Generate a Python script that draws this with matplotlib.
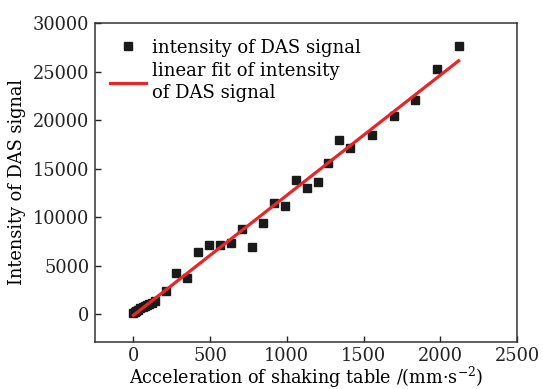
import matplotlib

matplotlib.use("Agg")

import matplotlib.pyplot as plt
import numpy as np

# acceleration of shaking table (mm/s^2) and DAS intensity
accel = [0, 8, 18, 30, 45, 60, 75, 90, 105, 120, 138,
         213, 280, 352, 421, 493, 565, 634, 706, 775, 847, 917, 988,
         1060, 1129, 1201, 1270, 1342, 1411, 1555, 1696, 1837, 1978, 2120]
intensity = [120, 200, 350, 480, 620, 760, 870, 960, 1080, 1180, 1350,
             2400, 4250, 3800, 6400, 7100, 7200, 7400, 8850, 6900, 9450, 11450, 11200,
             13850, 12980, 13600, 15650, 18000, 17200, 18450, 20400, 22100, 25250, 27650]

slope, intercept = np.polyfit(accel, intensity, 1)
fit_x = np.array([min(accel), max(accel)])
fit_y = slope * fit_x + intercept

plt.rcParams["font.family"] = ["DejaVu Serif"]
plt.rcParams["mathtext.fontset"] = "dejavuserif"

fig, ax = plt.subplots(figsize=(5.43, 3.89), dpi=100)
ax.plot(accel, intensity, "s", color="#1a1a1a", markersize=5.8, label="intensity of DAS signal", zorder=3)
ax.plot(fit_x, fit_y, color="#e8262a", lw=2.3, label="linear fit of intensity\nof DAS signal", zorder=4)

ax.set_xlim(-250, 2500)
ax.set_ylim(-2800, 30000)
ax.set_xticks([0, 500, 1000, 1500, 2000, 2500])
ax.set_yticks([0, 5000, 10000, 15000, 20000, 25000, 30000])
ax.tick_params(direction="in", length=4.5, width=1, labelsize=12.8, colors="#222222", pad=4)
for s in ax.spines.values():
    s.set_linewidth(1.1)
    s.set_color("#333333")

ax.set_xlabel("Acceleration of shaking table /(mm·s$^{-2}$)", fontsize=12.7, labelpad=0)
ax.set_ylabel("Intensity of DAS signal", fontsize=12.8, labelpad=5)

leg = ax.legend(loc="upper left", frameon=False, fontsize=13, handlelength=2.0,
                handletextpad=0.3, borderaxespad=0.45, borderpad=0.4, labelspacing=0.3)
for t in leg.get_texts():
    t.set_linespacing(1.3)

fig.subplots_adjust(left=0.175, right=0.952, top=0.94, bottom=0.122)
fig.savefig("out.png", dpi=100)
